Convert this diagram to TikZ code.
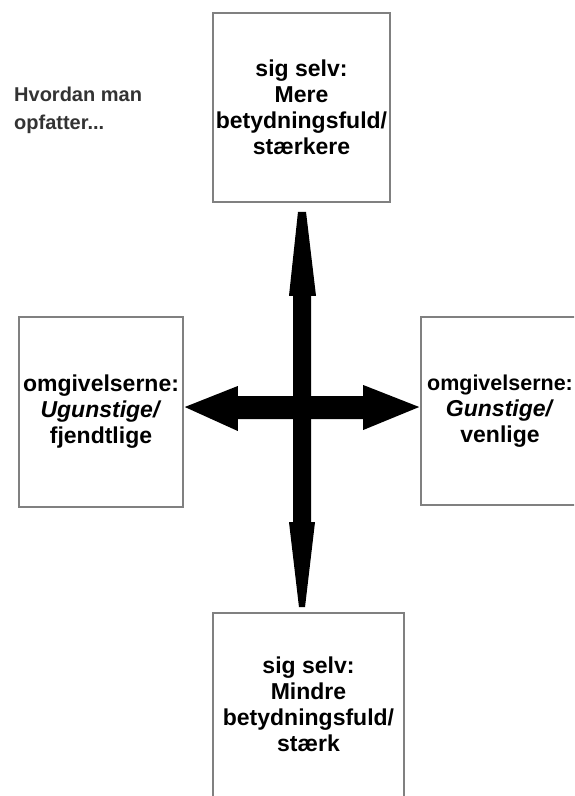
\documentclass[tikz,border=0pt]{standalone}
\usepackage{fontspec}
\setmainfont{Liberation Sans}
\usetikzlibrary{calc}
\tikzset{
  framebox/.style={draw=black!50, line width=1.6pt, fill=white, align=center,
    font=\bfseries\fontsize{23}{26}\selectfont, inner sep=0pt},
  bigarrow/.style={fill=black, draw=none},
  note/.style={font=\bfseries\fontsize{20}{28}\selectfont, text=black!80, align=left, inner sep=0pt}
}
\begin{document}
\begin{tikzpicture}[x=1pt,y=-1pt]
\useasboundingbox (0,0) rectangle (574,796);
\clip (0,0) rectangle (574,796);
\fill[white] (0,0) rectangle (574,796);
% boxes
\node[framebox, minimum width=177pt, minimum height=189pt] (T) at (301.5,107.5)
  {sig selv:\\Mere\\betydningsfuld/\\stærkere};
\node[framebox, minimum width=164pt, minimum height=190pt] (L) at (101,412)
  {omgivelserne:\\\textit{Ugunstige/}\\fjendtlige\rule[-4pt]{0pt}{1pt}};
\node[framebox, minimum width=158pt, minimum height=188pt] (R) at (500,411)
  {\fontsize{21.5}{26}\selectfont omgivelserne:\\\textit{Gunstige/}\\venlige\rule[-4pt]{0pt}{1pt}};
\node[framebox, minimum width=191pt, minimum height=190pt] (B) at (308.5,708)
  {sig selv:\\Mindre\\betydningsfuld/\\stærk\rule[-8pt]{0pt}{1pt}};
% note
\node[note, anchor=base west] (N) at (14,129) {Hvordan man\\opfatter...};
% arrow end points
\coordinate (hl) at ($(L.east |- 0,407)+(1,0)$);
\coordinate (hr) at ($(R.west |- 0,407)+(-1,0)$);
\coordinate (vt) at ($(T.south -| 302,0)+(0,9)$);
\coordinate (vb) at ($(B.north -| 302,0)+(0,-5)$);
% vertical double arrow
\fill[bigarrow] ($(vt)+(-4,0)$) -- ($(vt)+(-13,84)$) -- ($(vt)+(-9,84)$) --
  ($(vb)+(-9,-85)$) -- ($(vb)+(-13,-85)$) -- ($(vb)+(-3,0)$) -- ($(vb)+(3,0)$) --
  ($(vb)+(13,-85)$) -- ($(vb)+(9,-85)$) -- ($(vt)+(9,84)$) -- ($(vt)+(14,84)$) --
  ($(vt)+(4,0)$) -- cycle;
% horizontal double arrow
\fill[bigarrow] (hl) -- ($(hl)+(53,-21)$) -- ($(hl)+(53,-11)$) -- ($(hr)+(-56,-11)$) --
  ($(hr)+(-56,-22)$) -- (hr) -- ($(hr)+(-56,23)$) -- ($(hr)+(-56,12)$) --
  ($(hl)+(53,12)$) -- ($(hl)+(53,24)$) -- cycle;
\end{tikzpicture}
\end{document}
